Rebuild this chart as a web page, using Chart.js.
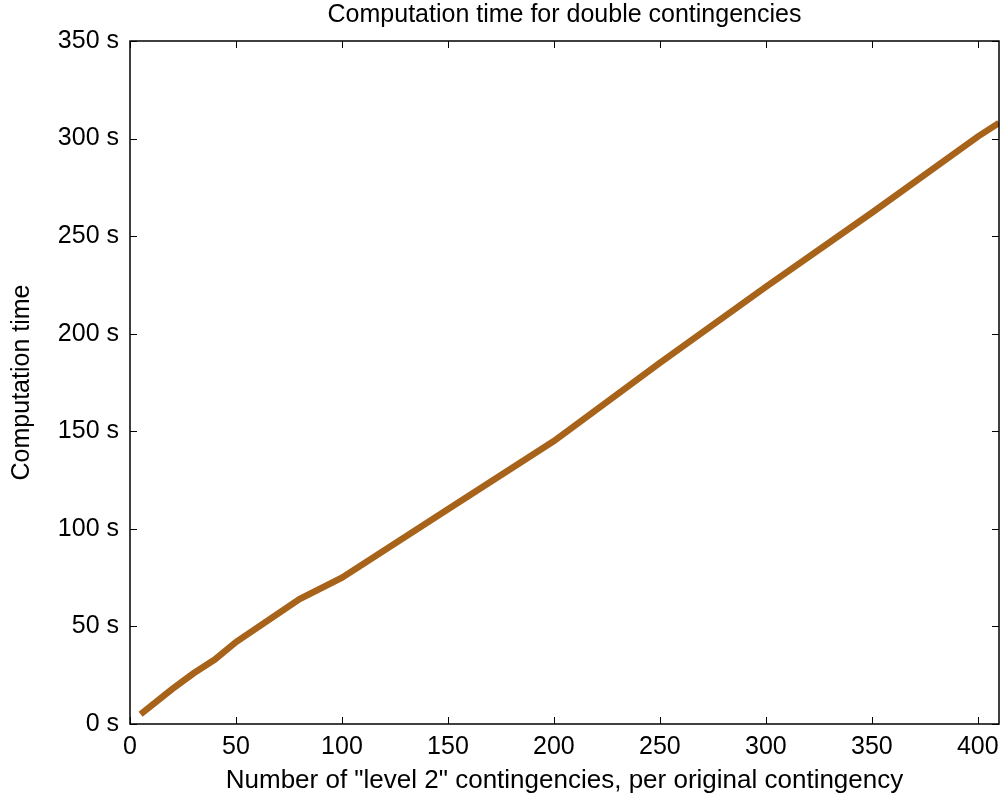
<!DOCTYPE html>
<html lang="en">
  <head>
    <meta charset="UTF-8" />
    <title>Computation time for double contingencies</title>
    <script src="https://cdn.jsdelivr.net/npm/chart.js"></script>
    <style>
      html, body {
        margin: 0;
        padding: 0;
        background: #fff;
      }
      #wrap {
        width: 1001px;
        height: 798px;
      }
    </style>
  </head>
  <body>
    <div id="wrap"><canvas id="chart" width="1001" height="798"></canvas></div>
    <script>
      const contingencies = [5, 20, 30, 40, 50, 80, 100, 150, 200, 250, 300, 350, 400, 410]
      const seconds = [5, 18, 26, 33, 42, 64, 75, 110, 145, 185, 224, 262, 301, 308]
      const xTicks = [0, 50, 100, 150, 200, 250, 300, 350, 400]
      const yTicks = [0, 50, 100, 150, 200, 250, 300, 350]

      const FONT = 'Liberation Sans, Arial, Helvetica, sans-serif'

      // marco y marcas hacia adentro en los cuatro lados (estilo matlab)
      const frameTicks = {
        id: 'frameTicks',
        afterDraw(chart) {
          const { ctx, chartArea: a, scales } = chart
          const len = 7
          ctx.save()
          ctx.strokeStyle = '#000'
          ctx.lineWidth = 1
          ctx.beginPath()
          xTicks.forEach((v) => {
            const px = Math.round(scales.x.getPixelForValue(v)) + 0.5
            ctx.moveTo(px, a.top)
            ctx.lineTo(px, a.top + len)
            ctx.moveTo(px, a.bottom)
            ctx.lineTo(px, a.bottom - len)
          })
          yTicks.forEach((v) => {
            const py = Math.round(scales.y.getPixelForValue(v)) + 0.5
            ctx.moveTo(a.left, py)
            ctx.lineTo(a.left + len, py)
            ctx.moveTo(a.right, py)
            ctx.lineTo(a.right - len, py)
          })
          ctx.stroke()
          ctx.lineWidth = 1.5
          ctx.strokeRect(a.left, a.top, a.right - a.left, a.bottom - a.top)
          ctx.restore()
        },
      }

      new Chart(document.getElementById('chart'), {
        type: 'line',
        data: {
          datasets: [
            {
              data: contingencies.map((x, i) => ({ x: x, y: seconds[i] })),
              borderColor: '#a8631a',
              borderWidth: 6.5,
              pointRadius: 0,
              tension: 0,
              fill: false,
            },
          ],
        },
        options: {
          responsive: false,
          animation: false,
          layout: { padding: { left: 0, right: 2, top: 0, bottom: 0 } },
          plugins: {
            legend: { display: false },
            tooltip: { enabled: false },
            title: {
              display: true,
              fullSize: false,
              text: 'Computation time for double contingencies',
              color: '#000',
              font: { family: FONT, size: 25, weight: 'normal' },
              padding: { top: 0, bottom: 11 },
            },
          },
          scales: {
            x: {
              type: 'linear',
              min: 0,
              max: 410,
              afterFit: (s) => {
                s.height = 74
                s.paddingLeft = 0
                s.paddingRight = 0
              },
              afterBuildTicks: (s) => {
                s.ticks = xTicks.map((v) => ({ value: v }))
              },
              grid: { display: false, drawTicks: false },
              border: { display: false },
              ticks: {
                color: '#000',
                padding: 8,
                maxRotation: 0,
                font: { family: FONT, size: 25 },
              },
              title: {
                display: true,
                text: 'Number of "level 2" contingencies, per original contingency',
                color: '#000',
                font: { family: FONT, size: 26 },
                padding: { top: 0, bottom: 2 },
              },
            },
            y: {
              type: 'linear',
              min: 0,
              max: 350,
              afterFit: (s) => {
                s.width = 130
              },
              afterBuildTicks: (s) => {
                s.ticks = yTicks.map((v) => ({ value: v }))
              },
              grid: { display: false, drawTicks: false },
              border: { display: false },
              ticks: {
                color: '#000',
                padding: 11,
                font: { family: FONT, size: 25 },
                callback: (v) => v + ' s',
              },
              title: {
                display: true,
                text: 'Computation time',
                color: '#000',
                font: { family: FONT, size: 25 },
                padding: { top: 7, bottom: 0 },
              },
            },
          },
        },
        plugins: [frameTicks],
      })
    </script>
  </body>
</html>
